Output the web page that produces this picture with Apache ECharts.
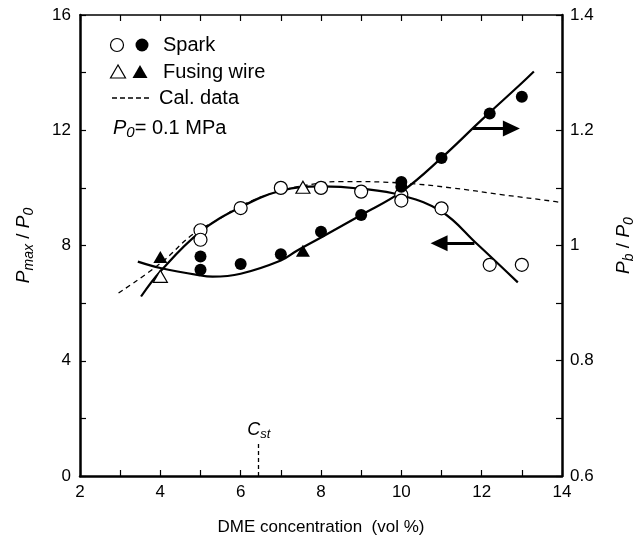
<!DOCTYPE html>
<html><head><meta charset="utf-8">
<script src="https://cdn.jsdelivr.net/npm/echarts@6/dist/echarts.min.js"></script>
<style>html,body{margin:0;padding:0;background:#fff}#c{width:644px;height:541px}</style>
</head><body><div id="c"></div>
<script>
// Data
const sparkOpenPmax = [[5,8.53],[5,8.2],[6,9.3],[7,10.0],[8,10.0],[9,9.87],[10,9.76],[10,9.56],[11,9.29],[12.2,7.33],[13,7.33]];
const wireOpenPmax = [[4,6.93],[7.55,10.02]];
const sparkFilledPb = [[5,0.981],[5,0.958],[6,0.968],[7,0.985],[8,1.024],[9,1.053],[10,1.11],[10,1.102],[11,1.152],[12.2,1.229],[13,1.258]];
const wireFilledPb = [[4,0.98],[7.55,0.991]];
const pmaxFit = [[3.52,6.23],[4,7.1],[5,8.48],[6,9.33],[7,9.9],[8,10.05],[9,9.97],[10,9.74],[11,9.18],[11.88,8.06],[12.9,6.72]];
const pbFit = [[3.44,0.972],[4,0.961],[5,0.948],[5.3,0.946],[6,0.951],[7,0.974],[7.4,0.991],[8,1.014],[9,1.053],[10,1.093],[11,1.152],[12,1.218],[13,1.282],[13.3,1.302]];
const calData = [[2.96,6.35],[4,7.38],[4.82,8.4],[5.5,8.95],[6,9.38],[7,9.9],[8,10.17],[8.5,10.22],[10,10.17],[11.25,10.0],[12.53,9.76],[13.8,9.53],[14,9.48]];
const cstX = 6.45;
const cstTop = 1.15;
const xTickLabels = [2,4,6,8,10,12,14];
const leftTickLabels = [0,4,8,12,16];
const rightTickLabels = [0.6,0.8,1.0,1.2,1.4];
const arrowRight = [[11.78,12.06],[12.74,12.06]];
const arrowLeft = [[11.82,8.08],[10.94,8.08]];

const FONT = 'Liberation Sans, Arial, sans-serif';
const chart = echarts.init(document.getElementById('c'));
const axisCommon = {
  axisLine:{show:true,lineStyle:{color:'#000',width:2.5}},
  axisTick:{show:true,inside:true,length:6,lineStyle:{color:'#000',width:1.2}},
  splitLine:{show:false},
  axisLabel:{color:'#000',fontSize:17,fontFamily:FONT}
};
const nameRich = {
  i:{fontStyle:'italic',fontSize:19,fontFamily:FONT,color:'#000'},
  s:{fontStyle:'italic',fontSize:14,fontFamily:FONT,color:'#000',padding:[10,0,0,0]},
  n:{fontSize:19,fontFamily:FONT,color:'#000'}
};
const near = (v, arr) => arr.some(a => Math.abs(a - v) < 1e-6);
chart.setOption({
  animation:false,
  grid:{left:80,right:66,top:15,bottom:59,containLabel:false},
  xAxis:[
    Object.assign({}, axisCommon, {type:'value',min:2,max:14,interval:1,position:'bottom',
      name:'DME concentration  (vol %)',nameLocation:'middle',nameGap:43,
      nameTextStyle:{color:'#000',fontSize:17,fontFamily:FONT},
      axisLabel:Object.assign({},axisCommon.axisLabel,{margin:8,formatter:v=>near(v,xTickLabels)?String(v):''})}),
    Object.assign({}, axisCommon, {type:'value',min:2,max:14,interval:1,position:'top',
      axisLine:{show:true,lineStyle:{color:'#000',width:1.5}},axisLabel:{show:false}})
  ],
  yAxis:[
    Object.assign({}, axisCommon, {type:'value',min:0,max:16,interval:2,position:'left',
      name:'{i|P}{s|max}{n| / }{i|P}{s|0}',nameLocation:'middle',nameGap:44,nameRotate:90,
      nameTextStyle:{rich:nameRich},
      axisLabel:Object.assign({},axisCommon.axisLabel,{margin:9,formatter:v=>near(v,leftTickLabels)?String(v):''})}),
    Object.assign({}, axisCommon, {type:'value',min:0.6,max:1.4,interval:0.1,position:'right',
      name:'{i|P}{s|b}{n| / }{i|P}{s|0}',nameLocation:'middle',nameGap:50,nameRotate:90,
      nameTextStyle:{rich:nameRich},
      axisLabel:Object.assign({},axisCommon.axisLabel,{margin:8,formatter:v=>near(v,rightTickLabels)?String(Math.round(v*10)/10):''})})
  ],
  series:[
    {type:'line',data:calData,xAxisIndex:0,yAxisIndex:0,smooth:0.4,showSymbol:false,
      lineStyle:{color:'#000',width:1.3,type:[5,4]},z:2},
    {type:'line',data:pmaxFit,xAxisIndex:0,yAxisIndex:0,smooth:0.4,showSymbol:false,
      lineStyle:{color:'#000',width:2.2},z:3},
    {type:'line',data:pbFit,xAxisIndex:0,yAxisIndex:1,smooth:0.4,showSymbol:false,
      lineStyle:{color:'#000',width:2.2},z:3},
    {type:'scatter',data:sparkOpenPmax,xAxisIndex:0,yAxisIndex:0,symbol:'circle',symbolSize:13,
      itemStyle:{color:'#fff',borderColor:'#000',borderWidth:1.2,opacity:1},z:5},
    {type:'scatter',data:wireOpenPmax,xAxisIndex:0,yAxisIndex:0,symbol:'triangle',symbolSize:[14,12],
      itemStyle:{color:'#fff',borderColor:'#000',borderWidth:1.2,opacity:1},z:5},
    {type:'scatter',data:sparkFilledPb,xAxisIndex:0,yAxisIndex:1,symbol:'circle',symbolSize:12,
      itemStyle:{color:'#000',opacity:1},z:6},
    {type:'scatter',data:wireFilledPb,xAxisIndex:0,yAxisIndex:1,symbol:'triangle',symbolSize:[14,12],
      itemStyle:{color:'#000',opacity:1},z:6},
    {type:'line',data:[],xAxisIndex:0,yAxisIndex:0,z:4,
      markLine:{silent:true,animation:false,symbol:['none','triangle'],symbolSize:[16,17],
        lineStyle:{color:'#000',width:3,type:'solid'},label:{show:false},
        data:[
          [{coord:arrowRight[0]},{coord:arrowRight[1]}],
          [{coord:arrowLeft[0]},{coord:arrowLeft[1]}]
        ]}},
    {type:'line',data:[],xAxisIndex:0,yAxisIndex:0,z:4,
      markLine:{silent:true,animation:false,symbol:['none','none'],
        lineStyle:{color:'#000',width:1.3,type:[4,3]},
        label:{show:true,position:'end',distance:2,formatter:'{c|C}{s|st}',
          rich:{c:{fontStyle:'italic',fontSize:18,fontFamily:FONT,color:'#000'},
                s:{fontStyle:'italic',fontSize:13,fontFamily:FONT,color:'#000',padding:[9,0,0,0]}}},
        data:[[{coord:[cstX,0]},{coord:[cstX,cstTop]}]]}}
  ],
  graphic:[
    {type:'circle',shape:{cx:117,cy:45,r:6.5},style:{fill:'#fff',stroke:'#000',lineWidth:1.2},z:10},
    {type:'circle',shape:{cx:142,cy:45,r:6.5},style:{fill:'#000'},z:10},
    {type:'text',x:163,y:45,style:{text:'Spark',fontSize:20,fontFamily:FONT,fill:'#000',verticalAlign:'middle'},z:10},
    {type:'polygon',shape:{points:[[118,65],[110.5,78],[125.5,78]]},style:{fill:'#fff',stroke:'#000',lineWidth:1.2},z:10},
    {type:'polygon',shape:{points:[[140,65],[132.5,78],[147.5,78]]},style:{fill:'#000'},z:10},
    {type:'text',x:163,y:72,style:{text:'Fusing wire',fontSize:20,fontFamily:FONT,fill:'#000',verticalAlign:'middle'},z:10},
    {type:'line',shape:{x1:112,y1:98,x2:150,y2:98},style:{stroke:'#000',lineWidth:1.3,lineDash:[5,3]},z:10},
    {type:'text',x:159,y:98,style:{text:'Cal. data',fontSize:20,fontFamily:FONT,fill:'#000',verticalAlign:'middle'},z:10},
    {type:'text',x:113,y:128,style:{text:'{i|P}{s|0}{n|= 0.1 MPa}',verticalAlign:'middle',
      rich:{i:{fontStyle:'italic',fontSize:20,fontFamily:FONT,fill:'#000'},
            s:{fontStyle:'italic',fontSize:15,fontFamily:FONT,fill:'#000',padding:[10,0,0,0]},
            n:{fontSize:20,fontFamily:FONT,fill:'#000'}}},z:10}
  ]
});
</script></body></html>
